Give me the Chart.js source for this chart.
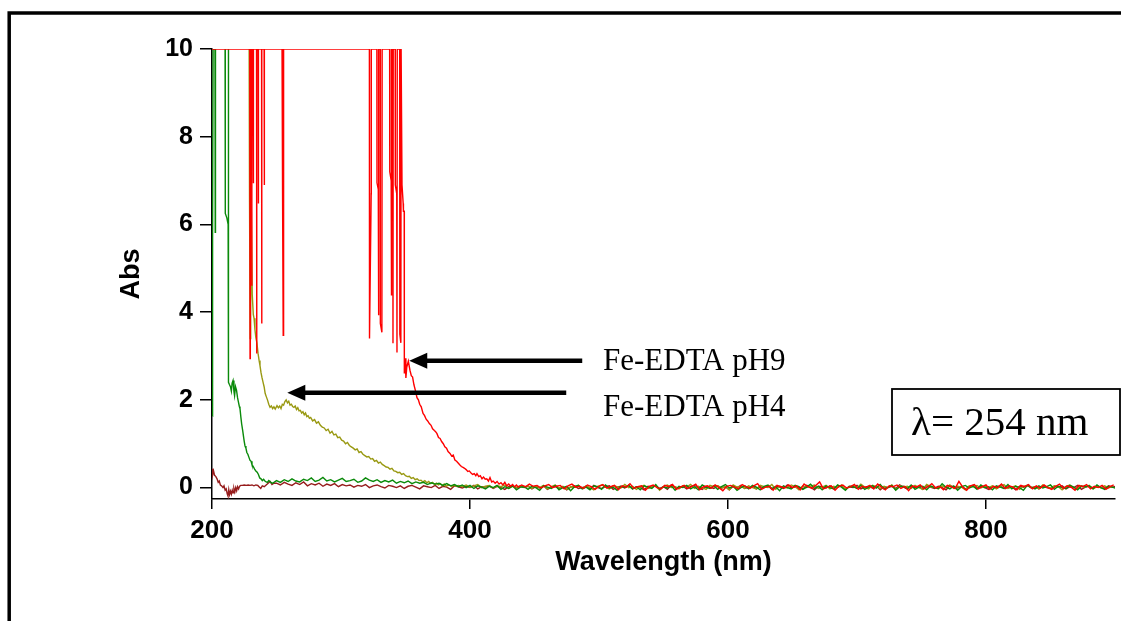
<!DOCTYPE html>
<html><head><meta charset="utf-8">
<script src="https://cdn.jsdelivr.net/npm/chart.js@4.4.1/dist/chart.umd.min.js"></script>
<style>html,body{margin:0;padding:0;background:#fff;overflow:hidden}canvas{display:block}</style>
</head><body>
<canvas id="c" width="1121" height="621"></canvas>
<script>
// ---------- DATA ----------
const xTicks = [200, 400, 600, 800];
const yTicks = [0, 2, 4, 6, 8, 10];
const seriesNames = ['Fe-EDTA pH9', 'Fe-EDTA pH4 (green)', 'Fe-EDTA pH4', 'blank'];

// Red (Fe-EDTA pH9) – detailed part
const redWl = [200,229.3,229.5,229.7,230.7,230.8,231.0,231.8,231.9,232.0,232.2,232.4,234.5,234.6,234.8,235.8,235.9,236.1,238.4,238.5,238.7,240.4,240.5,240.7,254.3,254.4,255.0,255.2,255.5,
322.0,322.1,323.4,323.5,327.8,327.9,328.9,329.1,329.3,330.4,330.5,331.7,331.9,337.7,337.8,338.9,339.0,339.3,340.2,340.3,340.5,342.0,342.1,343.2,343.4,343.6,345.5,345.6,346.4,346.6,347.2,347.3,348.2,348.4,349.0,349.1,349.8,350.3,351.0,352.2,
353.5,354.5,355.5,356.5,357.8,358.9,360.0,361.0,362.2,363.6,364.8,366.0,367.2,368.5,369.8,371.0,372.4,373.5,374.4,375.6,376.8,378.0,379.3,380.5,381.8,383.0,384.5,385.8,387.0,388.3,389.6,390.8,392.0,393.3,394.6,395.8,397.0,398.3,399.5,400.8,402.0,403.3,404.5,405.4,406.8,408.0,409.3,410.5,411.8,413.0,414.3,415.5,416.8,418.0,419.5,421.0,422.5,424.0,425.5,427.0,428.5,430.0,431.5,433.0,434.5,436.0,437.5];
const redAbs = [10,10,2.94,10,10,4.6,10,10,8.26,6.94,8.0,10,10,3.06,10,10,6.48,10,10,3.74,10,10,6.9,10,10,6.75,6.7,3.47,10,
10,3.4,6.7,10,10,6.95,6.8,3.93,10,10,3.74,3.54,10,10,7.2,7.0,4.38,10,10,3.29,10,10,6.9,6.7,3.08,10,10,3.5,3.3,10,10,6.9,6.48,6.3,6.3,2.6,2.95,2.5,2.75,2.88,
2.67,2.55,2.52,2.35,2.2,2.05,2.0,1.9,1.84,1.69,1.64,1.56,1.52,1.46,1.42,1.34,1.3,1.27,1.23,1.14,1.12,1.05,1.0,0.93,0.9,0.82,0.78,0.72,0.74,0.63,0.6,0.56,0.52,0.48,0.46,0.44,0.41,0.37,0.38,0.33,0.3,0.32,0.27,0.32,0.25,0.27,0.2,0.24,0.19,0.2,0.15,0.23,0.13,0.15,0.1,0.14,0.08,0.11,0.06,0.12,0.04,0.08,0.03,0.07,0.02,0.06,0.01];
// Red baseline, sampled from 440 nm every 3 nm
const redNoiseStart = 440, redNoiseStep = 3;
const redNoise = [0.06,0.02,0.08,0.03,0.05,-0.01,0.04,0.07,0.00,0.03,
0.05,-0.03,0.04,0.08,0.01,0.03,-0.02,0.06,0.02,-0.04,
0.03,0.07,-0.01,0.02,0.05,-0.05,0.04,0.01,0.09,-0.02,
0.02,0.04,-0.06,0.03,0.06,0.00,-0.03,0.05,0.02,0.07,
-0.04,0.01,0.05,-0.02,0.03,0.08,-0.05,0.02,0.04,-0.01,
0.06,0.00,-0.07,0.03,0.05,0.01,-0.03,0.07,0.02,-0.02,
0.04,0.09,-0.04,0.01,0.03,-0.06,0.05,0.02,-0.01,0.06,
0.00,0.04,-0.05,0.08,0.02,-0.02,0.05,0.13,-0.03,0.01,
0.04,-0.06,0.03,0.06,-0.01,0.02,0.07,-0.04,0.03,0.00,
0.05,-0.03,0.08,0.01,-0.05,0.04,0.02,0.06,-0.02,0.03,
-0.07,0.04,0.01,0.06,-0.03,0.02,0.09,-0.01,0.03,-0.05,
0.05,0.02,-0.02,0.14,0.01,-0.06,0.04,0.07,-0.03,0.02,
0.06,-0.04,0.03,0.00,0.08,-0.02,0.04,0.01,-0.05,0.05,
0.02,0.07,-0.03,0.04,-0.01,0.06,0.00,-0.04,0.03,0.08,
-0.02,0.04,0.01,-0.06,0.05,0.02,0.07,-0.03,0.03,0.00,0.05,-0.04,0.02,0.06];

// Green – detailed part
const greenWl = [200.0,200.15,200.3,200.45,200.6,200.75,200.85,202.3,202.5,202.7,210.1,210.3,211.5,212.5,212.6,212.8,212.9,213.5,214.3,215.0,215.6,216.3,217.0,217.5,218.2,219.0,219.8,220.5,221.2,221.7,222.4,223.0,223.8,224.5,225.0,225.6,226.3,227.0,227.8,228.5,229.5,230.3,231.0,232.0,233.0,234.0,235.0,236.0,237.0,238.0,239.0,240.0,241.0,242.0,243.0,244.0,245.0,246.0,247.0];
const greenAbs = [1.65,6.0,1.7,5.9,1.64,5.82,10,10,5.82,11,11,6.25,6.15,6.0,11,11,2.4,2.35,2.3,2.2,2.38,2.44,2.2,2.1,2.3,2.22,2.05,1.95,1.85,1.8,1.6,1.45,1.3,1.15,1.05,0.95,0.9,0.8,0.76,0.7,0.62,0.6,0.52,0.48,0.42,0.38,0.35,0.3,0.22,0.2,0.16,0.19,0.15,0.13,0.12,0.16,0.14,0.11,0.1];
const greenNoiseStart = 250, greenNoiseStep = 3;
const greenNoise = [0.16,0.12,0.18,0.14,0.2,0.15,0.13,0.19,0.16,0.22,
0.14,0.17,0.23,0.15,0.18,0.13,0.17,0.21,0.14,0.16,
0.19,0.12,0.15,0.22,0.17,0.14,0.18,0.12,0.16,0.13,
0.17,0.1,0.14,0.11,0.15,0.09,0.13,0.1,0.12,0.07,
0.11,0.08,0.1,0.05,0.09,0.04,0.07,0.02,0.06,0.0,
0.05,-0.02,0.04,0.01,-0.03,0.03,0.0,0.05,-0.04,0.02,
-0.02,0.04,-0.05,0.01,
0.02,-0.04,0.03,0.00,-0.06,0.04,0.01,-0.02,0.05,-0.05,
0.00,0.03,-0.07,0.02,0.05,-0.03,0.01,-0.05,0.04,0.02,
-0.04,0.06,-0.01,0.01,-0.06,0.03,0.00,0.05,-0.03,0.02,
-0.05,0.04,0.01,-0.02,0.07,-0.04,0.02,-0.01,0.04,-0.06,
0.03,0.00,0.05,-0.03,0.02,-0.05,0.06,0.01,-0.02,0.04,
-0.04,0.02,0.07,-0.01,0.03,-0.06,0.00,0.04,-0.03,0.05,
0.01,-0.05,0.03,0.06,-0.02,0.02,-0.07,0.04,0.00,-0.03,
0.05,0.02,-0.04,0.01,0.08,-0.02,0.03,-0.05,0.04,0.00,
-0.03,0.06,0.01,-0.06,0.03,0.02,-0.02,0.05,-0.04,0.01,
0.04,-0.01,0.07,-0.03,0.00,0.05,-0.06,0.02,0.03,-0.02,
0.06,-0.04,0.01,0.03,-0.05,0.04,0.00,-0.02,0.09,0.01,
-0.03,0.04,-0.06,0.02,0.05,-0.01,0.03,-0.04,0.06,0.00,
0.02,-0.05,0.04,0.01,-0.02,0.07,-0.03,0.03,0.00,-0.06,
0.05,0.01,-0.03,0.04,-0.01,0.02,0.06,-0.04,0.03,0.00,
-0.02,0.05,0.01,-0.05,0.03,0.02,0.04,-0.03,0.06,0.00,-0.04,0.03,0.01,-0.02];

// Olive (Fe-EDTA pH4) – detailed part
const oliveWl = [228.0,228.8,229.0,229.2,229.6,230.0,230.6,231.2,232.0,232.6,233.3,234.0,234.8,235.7,236.5,237.2,238.0,238.8,239.6,240.4,241.2,242.0,243.0,244.0,245.0,246.0,247.0,248.0,249.0,250.4,251.5,252.5,253.5,254.5,255.5,256.5,257.5,258.5,259.5,260.5,261.5,262.5,263.5,264.5,265.5,266.5,267.5,268.5,269.5,270.5,271.5,272.5,273.5,274.5,275.5,276.5,278.0,279.5,281.0,282.5,284.0,285.5,287.0,288.5,290.0,291.5,293.0,294.5,296.0,297.5,299.0,300.5,302.0,303.5,305.0,306.5,308.0,309.5,311.0,312.5,314.0,315.5,317.0,318.5,320.0,321.5,323.0,324.5,326.0,327.5,329.0,330.5,332.0,333.5,335.0,336.5,338.0,339.5,341.0,342.5,344.0,345.5,347.0,348.5,350.0,351.5,353.0,354.5,356.0,357.5,359.0,360.5,362.0,363.5,365.0,366.5,368.0,369.5,371.0,372.5,374.0,375.5,377.0,378.5,380.0,381.5,383.0,384.5,386.0,387.5,389.0];
const oliveAbs = [11,10,8.3,6.5,3.4,8.0,6.0,4.4,3.95,3.86,3.6,3.42,3.3,3.06,2.9,2.78,2.62,2.5,2.4,2.3,2.15,2.08,2.0,1.9,1.83,1.86,1.8,1.84,1.79,1.87,1.82,1.86,1.8,1.9,1.88,1.96,2.0,1.93,1.97,1.88,1.9,1.85,1.83,1.86,1.78,1.82,1.75,1.76,1.7,1.73,1.66,1.7,1.62,1.64,1.58,1.6,1.52,1.55,1.47,1.5,1.42,1.38,1.36,1.3,1.33,1.24,1.28,1.2,1.22,1.14,1.15,1.08,1.06,1.0,1.03,0.96,0.93,0.9,0.86,0.88,0.8,0.82,0.76,0.73,0.7,0.71,0.65,0.66,0.6,0.62,0.56,0.58,0.53,0.5,0.47,0.46,0.42,0.44,0.38,0.37,0.34,0.35,0.3,0.32,0.27,0.25,0.26,0.21,0.23,0.18,0.2,0.16,0.17,0.13,0.16,0.11,0.14,0.09,0.12,0.07,0.1,0.06,0.09,0.04,0.08,0.03,0.06,0.05,0.02,0.06,0.03];
const oliveNoiseStart = 391, oliveNoiseStep = 3;
const oliveNoise = [0.05,0.02,0.06,0.01,0.04,0.07,0.0,0.03,0.05,-0.01,0.04,0.02,0.06,-0.02,0.03,0.01,0.04,
0.01,0.04,-0.02,0.03,0.00,0.05,-0.03,0.02,0.06,-0.01,
0.03,-0.04,0.02,0.01,0.05,-0.02,0.04,0.00,-0.05,0.03,
0.06,0.01,-0.03,0.04,0.02,-0.01,0.07,0.00,0.03,-0.04,
0.02,0.05,-0.02,0.01,0.04,-0.06,0.03,0.06,0.00,0.02,
-0.03,0.04,0.01,0.07,-0.02,0.03,0.00,-0.04,0.05,0.02,
0.04,-0.01,0.02,-0.05,0.06,0.01,0.03,-0.02,0.04,0.00,
-0.03,0.05,0.02,0.00,0.07,-0.04,0.03,0.01,-0.01,0.06,
0.02,-0.05,0.04,0.00,0.03,0.06,-0.02,0.01,0.05,-0.03,
0.03,0.00,0.06,-0.04,0.02,0.04,-0.01,0.08,0.01,-0.03,
0.05,0.02,-0.02,0.03,0.00,0.06,-0.05,0.04,0.01,0.03,
-0.02,0.05,0.00,-0.04,0.07,0.02,0.01,-0.03,0.04,0.00,
0.06,-0.02,0.03,0.01,-0.05,0.04,0.02,0.05,-0.01,0.03,
0.00,0.04,-0.03,0.02,0.07,-0.02,0.01,0.04,-0.04,0.03,
0.05,0.00,0.02,-0.03,0.06,0.01,-0.01,0.04,0.02,-0.05,
0.03,0.06,0.00,-0.02,0.04,0.01,0.05,-0.03,0.02,0.00,0.04,-0.01,0.03];

// Dark red (blank) – detailed part
const maroonWl = [200.0,200.6,201.2,202.0,203.0,203.9,204.8,205.6,206.5,207.4,208.5,209.3,210.2,211.0,211.8,212.4,213.0,213.6,214.3,215.0,215.7,216.3,217.0,217.7,218.4,219.1,219.8,220.6,221.4,222.3,223.5,225.0,226.5,228.0,229.5,231.0,232.5,234.0,235.5,236.8,237.8,239.0,240.5,242.0,243.5,245.0,246.5,248.0];
const maroonAbs = [0.43,0.3,0.38,0.28,0.25,0.2,0.12,0.15,0.06,0.04,0.0,0.04,-0.06,-0.03,-0.14,-0.19,-0.05,-0.16,-0.08,-0.15,-0.06,-0.12,-0.02,-0.1,0.0,-0.07,0.02,-0.03,0.03,0.05,0.05,0.06,0.05,0.06,0.05,0.06,0.04,0.06,0.05,0.01,-0.02,0.04,0.02,0.06,0.1,0.14,0.07,0.1];
const maroonNoiseStart = 250, maroonNoiseStep = 3;
const maroonNoise = [0.1,0.06,0.12,0.08,0.05,0.11,0.07,0.13,0.04,0.09,
0.06,0.1,0.03,0.08,0.05,0.09,0.02,0.07,0.04,0.06,
0.01,0.05,0.03,0.07,0.0,0.04,0.06,0.02,-0.01,0.05,
0.03,0.0,0.04,-0.02,0.03,0.05,0.01,-0.03,0.04,0.02,
0.0,0.05,-0.02,0.03,0.01,-0.04,0.04,0.02,-0.01,0.03,
0.0,0.05,-0.03,0.02,0.01,0.04,-0.02,0.03,0.0,-0.04,
0.02,0.04,-0.01,0.03,
0.00,0.03,-0.03,0.02,-0.01,0.04,-0.04,0.01,0.03,-0.02,
0.02,-0.05,0.01,0.04,-0.02,0.00,0.03,-0.03,0.05,0.00,
-0.02,0.02,0.04,-0.04,0.01,0.03,-0.01,0.05,-0.03,0.02,
0.00,-0.05,0.03,0.01,0.04,-0.02,0.02,-0.04,0.06,0.01,
-0.01,0.03,-0.03,0.02,0.05,0.00,-0.04,0.02,0.01,-0.02,
0.04,-0.01,0.02,-0.05,0.03,0.00,0.05,-0.02,0.01,0.03,
-0.03,0.02,0.00,0.04,-0.04,0.03,0.01,-0.02,0.06,-0.01,
0.02,0.00,-0.03,0.05,0.01,-0.05,0.03,0.02,-0.01,0.04,
-0.02,0.01,0.04,-0.04,0.02,0.00,0.05,-0.03,0.01,0.03,
-0.01,0.04,-0.05,0.02,0.00,0.03,-0.02,0.06,0.01,-0.03,
0.03,0.00,0.02,-0.04,0.05,0.01,-0.02,0.03,0.00,-0.05,
0.04,0.02,-0.01,0.03,-0.03,0.01,0.05,-0.02,0.02,0.00,
-0.04,0.03,0.01,0.04,-0.02,0.00,0.02,-0.05,0.03,0.01,
0.05,-0.01,0.02,-0.03,0.04,0.00,-0.02,0.03,0.01,0.04,
-0.03,0.02,0.00,0.05,-0.04,0.01,0.03,-0.01,0.02,0.00,-0.02,0.04,0.01,0.03];

// Annotations (data coordinates: wavelength, absorbance)
const arrowFromWl = [487, 474.6];
const arrowToWl = [352.9, 258.4];
const arrowAbs = [2.89, 2.16];
const labelTexts = ['Fe-EDTA pH9', 'Fe-EDTA pH4'];
const boxText = 'λ= 254 nm';

// ---------- BUILD ----------
function build(wl, abs, start, step, noise) {
  const pts = wl.map((w, i) => ({x: w, y: abs[i]}));
  noise.forEach((v, i) => pts.push({x: start + i * step, y: v}));
  return pts;
}
const ds = (label, data, color) => ({label, data, borderColor: color, borderWidth: 1.4, pointRadius: 0, fill: false, tension: 0});

const decor = {
  id: 'decor',
  afterDraw(chart) {
    const c = chart.ctx, xs = chart.scales.x, ys = chart.scales.y;
    c.save();
    c.strokeStyle = '#000'; c.fillStyle = '#000';
    c.lineWidth = 3.5;
    c.strokeRect(9.2, 13, 1300, 800);
    for (let i = 0; i < arrowFromWl.length; i++) {
      const x0 = xs.getPixelForValue(arrowFromWl[i]);
      const x1 = xs.getPixelForValue(arrowToWl[i]);
      const y = ys.getPixelForValue(arrowAbs[i]);
      c.lineWidth = 4.5;
      c.beginPath(); c.moveTo(x0, y); c.lineTo(x1 + 12, y); c.stroke();
      c.beginPath(); c.moveTo(x1, y); c.lineTo(x1 + 18, y - 8); c.lineTo(x1 + 18, y + 8); c.closePath(); c.fill();
    }
    c.font = '31px "Liberation Serif"';
    c.textBaseline = 'alphabetic'; c.textAlign = 'left';
    c.fillText(labelTexts[0], 603, 369.5);
    c.fillText(labelTexts[1], 603, 415.5);
    c.lineWidth = 1.8;
    c.strokeRect(892, 389, 228, 66);
    c.font = '41px "Liberation Serif"';
    c.fillText(boxText, 911, 435);
    c.restore();
  }
};

const yFont = {family: 'Liberation Sans', size: 25, weight: 'bold'};
const xFont = {family: 'Liberation Sans', size: 26, weight: 'bold'};
const titleFont = {family: 'Liberation Sans', size: 27, weight: 'bold'};

new Chart(document.getElementById('c'), {
  type: 'line',
  data: {
    datasets: [
      ds(seriesNames[0], build(redWl, redAbs, redNoiseStart, redNoiseStep, redNoise), '#ff0000'),
      ds(seriesNames[1], build(greenWl, greenAbs, greenNoiseStart, greenNoiseStep, greenNoise), '#0a8a0a'),
      ds(seriesNames[2], build(oliveWl, oliveAbs, oliveNoiseStart, oliveNoiseStep, oliveNoise), '#999912'),
      ds(seriesNames[3], build(maroonWl, maroonAbs, maroonNoiseStart, maroonNoiseStep, maroonNoise), '#961c1c')
    ]
  },
  options: {
    responsive: false, animation: false, devicePixelRatio: 1,
    layout: {padding: {left: 0, top: 49, right: 6, bottom: 0}},
    plugins: {legend: {display: false}, tooltip: {enabled: false}},
    scales: {
      x: {
        type: 'linear', min: 200, max: 900,
        afterFit: s => { s.height = 122; },
        afterBuildTicks: s => { s.ticks = xTicks.map(v => ({value: v})); },
        ticks: {stepSize: 200, includeBounds: false, maxRotation: 0, autoSkip: false, padding: 6, color: '#000', font: xFont},
        grid: {drawOnChartArea: false, drawTicks: true, tickLength: 10, color: '#000', lineWidth: 1.5},
        border: {display: true, color: '#000', width: 1.5},
        title: {display: true, text: 'Wavelength (nm)', color: '#000', font: titleFont, padding: {top: 0, bottom: 42}}
      },
      y: {
        min: -0.26, max: 10,
        afterFit: s => { s.width = 212; },
        afterBuildTicks: s => { s.ticks = yTicks.map(v => ({value: v})); },
        ticks: {stepSize: 2, includeBounds: false, padding: 7, color: '#000', font: yFont},
        grid: {drawOnChartArea: false, drawTicks: true, tickLength: 12, color: '#000', lineWidth: 1.5},
        border: {display: true, color: '#000', width: 1.5},
        title: {display: true, text: 'Abs', color: '#000', font: titleFont, padding: {top: 115.5, bottom: 0}}
      }
    }
  },
  plugins: [decor]
});
</script></body></html>
